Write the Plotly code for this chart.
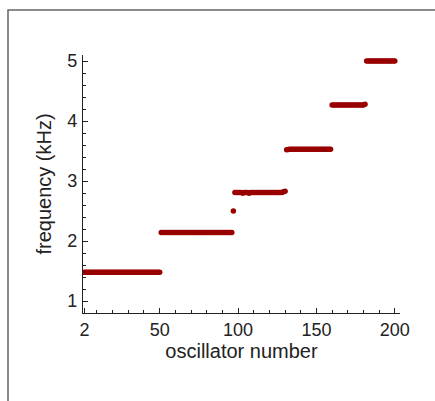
import plotly.graph_objects as go

osc_seg1 = list(range(2, 51))
freq_seg1 = [1.48] * 49
osc_seg2 = list(range(51, 97))
freq_seg2 = [2.14] * 46
osc_single = [97]
freq_single = [2.50]
osc_seg3 = list(range(98, 131))
freq_seg3 = [2.81, 2.81, 2.81, 2.81, 2.81, 2.795, 2.81, 2.81, 2.81, 2.795,
             2.81, 2.81, 2.81, 2.81, 2.81, 2.81, 2.81, 2.81, 2.81, 2.81,
             2.81, 2.81, 2.81, 2.81, 2.81, 2.81, 2.81, 2.81, 2.81, 2.81,
             2.81, 2.82, 2.83]
osc_seg4 = list(range(131, 160))
freq_seg4 = [3.52, 3.525] + [3.53] * 27
osc_seg5 = list(range(160, 182))
freq_seg5 = [4.265] * 21 + [4.28]
osc_seg6 = list(range(182, 201))
freq_seg6 = [5.0] * 19

osc = osc_seg1 + osc_seg2 + osc_single + osc_seg3 + osc_seg4 + osc_seg5 + osc_seg6
freq = freq_seg1 + freq_seg2 + freq_single + freq_seg3 + freq_seg4 + freq_seg5 + freq_seg6

x_ticks = [2, 50, 100, 150, 200]
y_ticks = [1, 2, 3, 4, 5]

fig = go.Figure()
fig.add_trace(go.Scatter(
    x=osc, y=freq, mode="markers",
    marker=dict(color="#990000", size=5.5, line=dict(width=0)),
    showlegend=False, hoverinfo="x+y",
))

font_family = "Liberation Sans, Arial, sans-serif"
W, H = 435, 401
L, R, T, B = 83, 35, 55, 88
pw, ph = W - L - R, H - T - B

fig.update_layout(
    width=W, height=H,
    margin=dict(l=L, r=R, t=T, b=B),
    paper_bgcolor="white", plot_bgcolor="white",
    font=dict(family=font_family, color="#222222"),
    xaxis=dict(
        range=[1.1, 203.3], tickvals=x_ticks, ticktext=[str(v) for v in x_ticks],
        ticks="inside", ticklen=5, tickwidth=1, tickcolor="#222",
        minor=dict(tickvals=[10, 20, 30, 40, 60, 70, 80, 90, 110, 120, 130, 140,
                             160, 170, 180, 190],
                   ticks="inside", ticklen=3, tickcolor="#222", tickwidth=1),
        showline=True, linecolor="#222", linewidth=1.2,
        showgrid=False, zeroline=False,
        tickfont=dict(size=18), ticklabelstandoff=0,
        title=dict(text="oscillator number", font=dict(size=20), standoff=2),
    ),
    yaxis=dict(
        range=[0.8, 5.1], tickvals=y_ticks,
        ticks="inside", ticklen=5, tickwidth=1, tickcolor="#222",
        minor=dict(dtick=0.2, tick0=0, ticks="inside", ticklen=3,
                   tickcolor="#222", tickwidth=1),
        showline=True, linecolor="#222", linewidth=1.2,
        showgrid=False, zeroline=False,
        tickfont=dict(size=18), ticklabelstandoff=1,
        title=dict(text="frequency (kHz)", font=dict(size=20), standoff=10),
    ),
    shapes=[dict(
        type="rect", xref="paper", yref="paper",
        x0=(8 - L) / pw, x1=(445 - L) / pw,
        y0=(T + ph - 412) / ph, y1=(T + ph - 10) / ph,
        line=dict(color="#666666", width=1.5), fillcolor="rgba(0,0,0,0)",
        layer="below",
    )],
)

fig.write_html("out.html")
